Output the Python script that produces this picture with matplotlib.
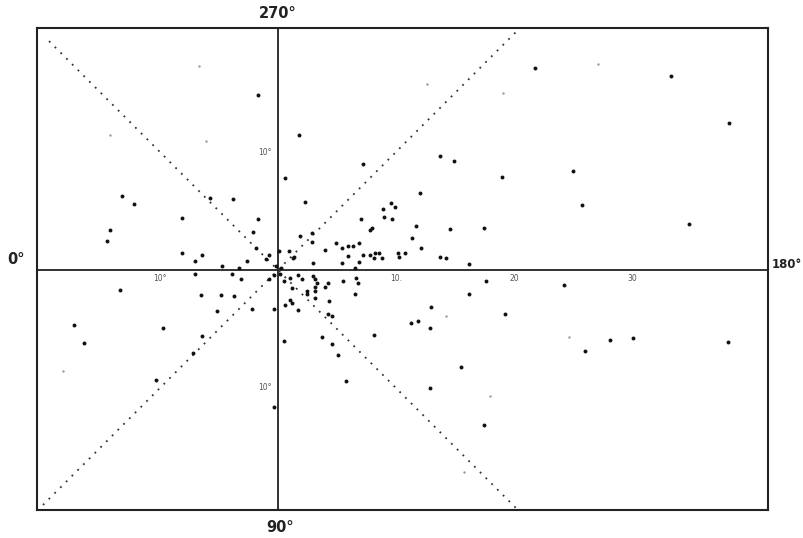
import numpy as np
import matplotlib.pyplot as plt

# positions in degrees; x toward 180 deg is positive, y toward 270 deg is positive
x_pts = [
    -1.7, 1.8, 0.6, 7.2, -13.2, -12.2, -8.1, -5.8, -3.8, -1.7, -2.1, -14.2, -14.5,
    -8.1, -6.4, -1.9, -0.8, 0.1, 0.9, 2.3, 2.9, 1.9, 2.9, 1.3, 7.0, 7.8, 8.9, 9.6,
    9.9, 9.0, 9.7, 4.0, 4.9, 5.4, 5.9, 6.4, 6.9, 7.2, 7.8, 8.2, 8.6, 8.1, 8.8, 10.2,
    5.9, -2.6, -1.0, -7.0, 21.8, 33.3, 38.2, 13.7, 14.9, 19.0, 25.0, 25.8, 34.8,
    12.0, 11.7, 14.6, 17.5, 11.4, 12.1, 10.8, 13.7, 14.2, 16.2, 8.0, 10.3, 5.4, 6.5,
    6.9, 3.0, 1.4, -4.7, -3.3,
    -13.4, -17.3, -16.4, -9.7, -10.3, -6.5, -4.8, -3.7, -5.2, -2.2, -3.1, -7.0,
    -6.4, -7.2, -0.3, -0.8, 0.5, 1.0, 1.7, 3.0, 3.1, 1.2, 1.0, 1.2, 0.6, 1.7, 2.5,
    3.1, 3.1, 4.0, 4.2, 4.3, 4.6, 4.2, 3.1, 5.5, 6.6, 6.8, 6.5, 0.5, 3.7, 4.6, 5.1,
    5.8, 8.1, -0.3, 17.6, 16.2, 24.2, 19.2, 13.0, 11.3, 11.9, 12.9, 26.0, 28.1,
    30.1, 38.1, 15.5, 12.9, 17.5, -3.9, 2.0, 3.3, 2.5, -0.2, 0.2, -0.3, 0.3,
]
y_pts = [
    14.8, 11.4, 7.8, 9.0, 6.3, 5.6, 4.4, 6.1, 6.0, 4.3, 3.2, 3.4, 2.5,
    1.4, 1.3, 1.9, 1.3, 1.6, 1.6, 5.8, 3.1, 2.9, 2.4, 1.0, 4.3, 3.4, 5.2, 5.7,
    5.3, 4.5, 4.3, 1.7, 2.3, 1.9, 2.0, 2.0, 2.3, 1.3, 1.3, 1.4, 1.4, 1.0, 1.0, 1.4,
    1.2, 0.8, 0.9, 0.8, 17.1, 16.4, 12.5, 9.7, 9.2, 7.9, 8.4, 5.5, 3.9,
    6.5, 3.7, 3.5, 3.6, 2.7, 1.9, 1.4, 1.1, 1.0, 0.5, 3.6, 1.1, 0.6, 0.2,
    0.7, 0.6, 1.1, 0.3, 0.2,
    -1.7, -4.7, -6.2, -4.9, -9.3, -2.1, -2.1, -2.2, -3.5, -3.3, -0.8, -0.3,
    -5.6, -7.0, -3.3, -0.8, -0.9, -0.7, -0.4, -0.5, -0.8, -1.5, -2.5, -2.8, -3.0, -3.4, -2.0,
    -1.8, -1.4, -1.4, -1.1, -2.6, -3.9, -3.7, -2.4, -0.9, -0.7, -1.1, -2.0, -6.0, -5.7, -6.3,
    -7.2, -9.4, -5.5, -11.6, -0.9, -2.0, -1.3, -3.7, -3.1, -4.5, -4.3, -4.9, -6.9, -5.9,
    -5.8, -6.1, -8.2, -10.0, -13.1, -0.3, -0.8, -1.1, -1.8, 0.3, -0.3, -0.4, 0.2,
]

# faint points
x_faint = [-6.7, -14.2, -6.1, 27.1, 12.6, 19.1, -18.2, 14.2, 24.7, 18.0, 15.8]
y_faint = [17.3, 11.4, 10.9, 17.5, 15.8, 15.0, -8.6, -3.9, -5.7, -10.7, -17.1]

x_ticks = [-10, 10, 20, 30]
x_tick_labels = ["10°", "10.", "20", "30"]
y_ticks = [10, -10]
y_tick_labels = ["10°", "10°"]

fig = plt.figure(figsize=(8.04, 5.38), dpi=100)
ax = fig.add_axes([37 / 804, 28 / 538, 731 / 804, 482 / 538])
ax.set_xlim(-20.42, 41.53)
ax.set_ylim(-20.34, 20.51)
ax.set_xticks([])
ax.set_yticks([])
for s in ax.spines.values():
    s.set_linewidth(1.5)
    s.set_color("#222222")

# main axes through the origin
ax.axhline(0, color="#222222", lw=1.3)
ax.axvline(0, color="#222222", lw=1.3)

# dotted diagonals
d1 = np.array([-20.4, 20.6])
ax.plot(d1, d1, color="#333333", lw=1.3, linestyle=(0, (1, 3.5)))
d2 = np.array([-19.4, 20.6])
ax.plot(d2, -d2, color="#333333", lw=1.3, linestyle=(0, (1, 3.5)))

ax.scatter(x_pts, y_pts, s=8, color="#111111", zorder=3, linewidths=0)
ax.scatter(x_faint, y_faint, s=3, color="#999999", zorder=3, linewidths=0)

for xt, lab in zip(x_ticks, x_tick_labels):
    ax.text(xt, -0.35, lab, fontsize=5.5, ha="center", va="top", color="#555555")
for yt, lab in zip(y_ticks, y_tick_labels):
    ax.text(-0.5, yt, lab, fontsize=5.5, ha="right", va="center", color="#555555")

fig.text(278 / 804, 1 - 13 / 538, "270°", ha="center", va="center",
         fontsize=10.5, fontweight="bold", color="#222222")
fig.text(280 / 804, 1 - 528 / 538, "90°", ha="center", va="center",
         fontsize=10.5, fontweight="bold", color="#222222")
fig.text(7 / 804, 1 - 259 / 538, "0°", ha="left", va="center",
         fontsize=10.5, fontweight="bold", color="#222222")
fig.text(802 / 804, 1 - 265 / 538, "180°", ha="right", va="center",
         fontsize=8.5, fontweight="bold", color="#222222")

fig.savefig("out.png", dpi=100)
